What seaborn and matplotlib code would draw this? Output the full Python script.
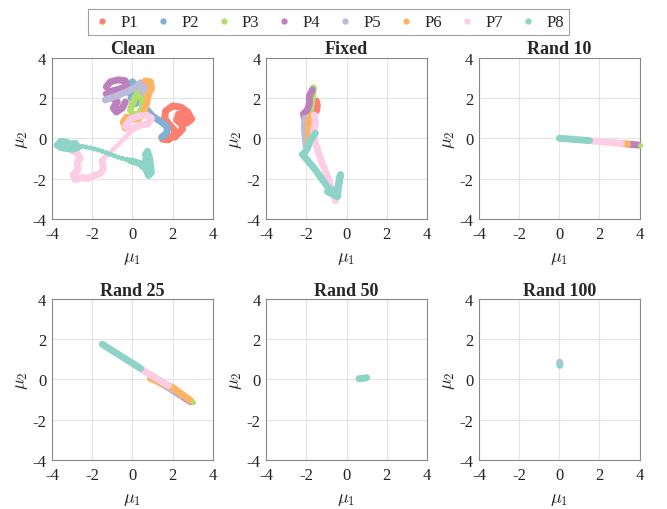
import matplotlib
matplotlib.use("Agg")
import matplotlib.pyplot as plt
from matplotlib.lines import Line2D
import seaborn as sns
import pandas as pd

series = ["P1", "P2", "P3", "P4", "P5", "P6", "P7", "P8"]
colors = ["#fb8072", "#80b1d3", "#b3de69", "#bc80bd", "#bebada", "#fdb462", "#fccde5", "#8dd3c7"]
titles = ["Clean", "Fixed", "Rand 10", "Rand 25", "Rand 50", "Rand 100"]
ticks = [-4, -2, 0, 2, 4]

# --- Clean: trajectories (waypoints)
clean_p1 = [(1.5, -0.05), (1.8, -0.08), (2.05, 0.15), (2.1, 0.4), (1.85, 0.65), (1.6, 1.0), (1.65, 1.35),
            (2.0, 1.6), (2.4, 1.55), (2.75, 1.3), (2.95, 0.95), (2.7, 0.75), (2.5, 1.05), (2.3, 1.2),
            (2.2, 0.9), (2.45, 0.7), (2.5, 0.45), (2.3, 0.25), (2.1, 0.05)]
clean_p2 = [(1.45, 0.05), (1.7, 0.25), (1.75, 0.55), (1.45, 0.8), (1.0, 1.1), (0.7, 1.45), (0.45, 1.75),
            (0.25, 2.2), (0.15, 2.6), (0.0, 2.8), (-0.15, 2.5), (-0.05, 2.0), (0.15, 1.7)]
clean_p3 = [(0.0, 1.15), (0.3, 1.2), (0.5, 1.5), (0.5, 1.95), (0.35, 2.35), (0.15, 2.05), (0.0, 1.7), (-0.1, 1.4)]
clean_p4 = [(-1.3, 2.55), (-1.1, 2.8), (-0.7, 2.9), (-0.35, 2.85), (-0.3, 2.6), (-0.6, 2.45), (-1.0, 2.35),
            (-1.3, 2.2), (-1.0, 2.0), (-0.75, 1.8), (-0.95, 1.5), (-0.8, 1.3), (-0.5, 1.5), (-0.35, 1.8)]
clean_p5 = [(-1.35, 1.9), (-0.8, 2.1), (-0.3, 2.3), (0.1, 2.5), (0.4, 2.75), (0.7, 2.7), (0.5, 2.3)]
clean_p6 = [(0.65, 2.85), (0.9, 2.8), (0.95, 2.45), (0.8, 2.2), (0.7, 1.7), (0.55, 1.25), (0.3, 0.95),
            (0.0, 0.95), (-0.3, 1.05), (-0.45, 0.8), (-0.35, 0.5), (-0.05, 0.45)]
clean_p7 = [(-0.35, 0.6), (-0.1, 0.95), (0.3, 1.1), (0.7, 1.15), (0.95, 1.0), (0.75, 0.7), (0.4, 0.65),
            (0.1, 0.5), (-0.2, 0.45)]
clean_p7_low = [(-1.5, -1.1), (-1.45, -1.5), (-1.6, -1.75), (-1.9, -1.85), (-2.2, -2.0), (-2.5, -1.95),
                (-2.85, -2.05), (-2.95, -1.8), (-2.7, -1.55), (-2.75, -1.2), (-2.6, -1.0), (-2.75, -0.75),
                (-2.95, -0.65)]
clean_p7_dots = [(-0.05, 0.35), (-0.2, 0.2), (-0.35, 0.05), (-0.5, -0.1), (-0.65, -0.25), (-0.8, -0.4),
                 (-0.95, -0.55), (-1.1, -0.7), (-1.25, -0.82), (-1.4, -0.95)]
clean_p8 = [(-3.75, -0.35), (-3.55, -0.15), (-3.3, -0.2), (-3.05, -0.3), (-2.85, -0.25), (-2.7, -0.45),
            (-3.0, -0.55), (-3.35, -0.5), (-3.6, -0.45)]
clean_p8_dots = [(-2.5, -0.4), (-2.3, -0.44), (-2.1, -0.48), (-1.9, -0.53), (-1.7, -0.58), (-1.5, -0.65),
                 (-1.3, -0.72), (-1.1, -0.8), (-0.9, -0.87), (-0.7, -0.94), (-0.5, -1.0), (-0.3, -1.05),
                 (-0.1, -1.1)]
clean_p8_right = [(-0.1, -1.12), (0.2, -1.2), (0.5, -1.3), (0.7, -1.1), (0.65, -0.8), (0.75, -0.65),
                  (0.85, -0.95), (0.9, -1.35), (0.95, -1.7), (0.8, -1.85), (0.65, -1.5), (0.45, -1.35)]

# --- Fixed
fixed_p1 = [(-1.5, 1.85), (-1.45, 1.6), (-1.5, 1.35)]
fixed_p2 = [(-1.8, 1.4), (-1.85, 1.0)]
fixed_p3 = [(-1.65, 2.5), (-1.7, 2.0), (-1.8, 1.4), (-1.9, 0.9)]
fixed_p4 = [(-1.7, 2.4), (-1.85, 2.1), (-1.85, 1.7), (-1.95, 1.4), (-2.15, 1.2), (-2.05, 0.9), (-2.1, 0.5)]
fixed_p5 = [(-2.05, 1.0), (-2.1, 0.5), (-2.05, 0.0), (-2.0, -0.45)]
fixed_p6 = [(-1.8, 1.1), (-1.9, 0.7), (-1.85, 0.3), (-1.9, -0.3)]
fixed_p7 = [(-1.6, 1.15), (-1.55, 0.7), (-1.65, 0.3), (-1.6, -0.1), (-1.3, -1.0), (-0.95, -1.9),
            (-0.7, -2.6), (-0.55, -3.1)]
fixed_p8 = [(-1.55, 0.25), (-1.8, -0.1), (-1.95, -0.5), (-2.1, -0.75), (-2.2, -0.8), (-1.6, -1.5),
            (-1.1, -2.2), (-0.8, -2.6), (-0.45, -2.55), (-0.3, -1.8), (-0.4, -2.4), (-0.45, -2.9),
            (-0.95, -2.65)]

# --- Rand 10
rand10_p4 = [(3.4, -0.29), (3.95, -0.34)]
rand10_p6 = [(3.1, -0.26), (3.4, -0.29)]
rand10_p7 = [(1.5, -0.12), (3.1, -0.26)]
rand10_p8 = [(0.0, 0.0), (1.5, -0.12)]
rand10_p3_dots = [(4.0, -0.35)]

# --- Rand 25
rand25_p4 = [(1.0, 0.1), (2.9, -1.1)]
rand25_p5 = [(1.0, 0.05), (2.5, -0.8)]
rand25_p6 = [(0.9, 0.05), (2.0, -0.4), (2.9, -1.05)]
rand25_p7 = [(0.45, 0.5), (1.8, -0.3)]
rand25_p8 = [(-1.5, 1.75), (0.4, 0.55)]
rand25_p3_dots = [(3.0, -1.1)]

# --- Rand 50
rand50_p8 = [(0.62, 0.04), (0.85, 0.06), (1.0, 0.09)]

# --- Rand 100
rand100_p8 = [(0.02, 0.85), (0.03, 0.7)]
rand100_p5_dots = [(-0.02, 0.9)]

panel_lines = [
    [("P1", clean_p1), ("P2", clean_p2), ("P3", clean_p3), ("P4", clean_p4), ("P5", clean_p5),
     ("P6", clean_p6), ("P7", clean_p7), ("P7", clean_p7_low), ("P8", clean_p8), ("P8", clean_p8_right)],
    [("P1", fixed_p1), ("P2", fixed_p2), ("P3", fixed_p3), ("P4", fixed_p4), ("P5", fixed_p5),
     ("P6", fixed_p6), ("P7", fixed_p7), ("P8", fixed_p8)],
    [("P4", rand10_p4), ("P6", rand10_p6), ("P7", rand10_p7), ("P8", rand10_p8)],
    [("P4", rand25_p4), ("P5", rand25_p5), ("P6", rand25_p6), ("P7", rand25_p7), ("P8", rand25_p8)],
    [("P8", rand50_p8)],
    [("P8", rand100_p8)],
]
panel_dots = [
    [("P7", clean_p7_dots), ("P8", clean_p8_dots)],
    [],
    [("P3", rand10_p3_dots)],
    [("P3", rand25_p3_dots)],
    [],
    [("P5", rand100_p5_dots)],
]


def to_frame(paths):
    rows = []
    for k, (name, pts) in enumerate(paths):
        for i, (x, y) in enumerate(pts):
            rows.append({"series": name, "seg": k, "order": i, "x": x, "y": y})
    return pd.DataFrame(rows, columns=["series", "seg", "order", "x", "y"])


sns.set_theme(style="whitegrid")
plt.rcParams["font.family"] = ["Liberation Serif", "DejaVu Serif"]
plt.rcParams["mathtext.fontset"] = "cm"
plt.rcParams["axes.unicode_minus"] = False

palette = dict(zip(series, colors))

fig = plt.figure(figsize=(6.67, 5.1), dpi=100)
lefts = [0.078, 0.399, 0.718]
bottoms = [0.569, 0.096]

for idx, title in enumerate(titles):
    r, c = divmod(idx, 3)
    ax = fig.add_axes([lefts[c], bottoms[r], 0.241, 0.316])

    lines = to_frame(panel_lines[idx])
    sns.lineplot(data=lines, x="x", y="y", hue="series", units="seg", estimator=None, sort=False,
                 hue_order=series, palette=palette, lw=5, solid_capstyle="round",
                 solid_joinstyle="round", legend=False, ax=ax)
    if panel_dots[idx]:
        dots = to_frame(panel_dots[idx])
        sns.scatterplot(data=dots, x="x", y="y", hue="series", hue_order=series, palette=palette,
                        s=14, linewidth=0, legend=False, ax=ax, zorder=3, clip_on=False)

    ax.set_xlim(-4, 4)
    ax.set_ylim(-4, 4)
    ax.set_xticks(ticks)
    ax.set_yticks(ticks)
    ax.set_xticklabels([str(t) for t in ticks])
    ax.set_yticklabels([str(t) for t in ticks])
    ax.tick_params(labelsize=12, direction="in", length=3, color="#888888", labelcolor="#222222")
    ax.tick_params(axis="x", pad=5)
    ax.tick_params(axis="y", pad=4)
    ax.grid(True, color="#e4e4e4", lw=0.8)
    for sp in ax.spines.values():
        sp.set_color("#888888")
        sp.set_linewidth(0.8)
    ax.set_facecolor("white")
    ax.set_title(title, fontsize=13, fontweight="bold", pad=3)
    ax.set_xlabel(r"$\mu_1$", fontsize=13, labelpad=5)
    ax.set_ylabel(r"$\mu_2$", fontsize=13, labelpad=2)

handles = [Line2D([], [], marker="o", ls="", color=col, markersize=3.5) for col in colors]
leg = fig.legend(handles, series, loc="upper center", bbox_to_anchor=(0.493, 0.996), ncol=8,
                 fontsize=12, frameon=True, fancybox=False, edgecolor="#888888",
                 handletextpad=0.6, columnspacing=1.0, borderpad=0.3, handlelength=1.0)
leg.get_frame().set_linewidth(0.8)

fig.savefig("out.png", dpi=100)
